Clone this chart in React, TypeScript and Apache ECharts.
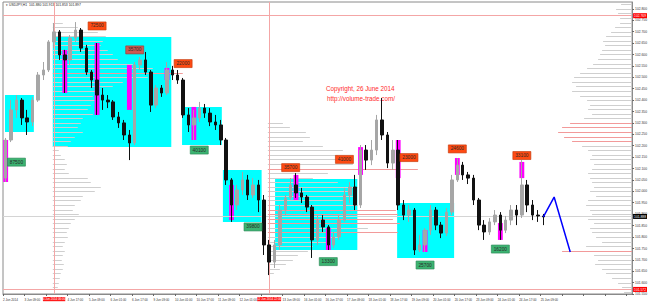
import React, { useEffect, useRef } from "react";
import * as echarts from "echarts";

// ---------- data ----------
const tickLabels = [
  "2 Jun 2014", "3 Jun 09:00", "4 Jun 01:00", "4 Jun 17:00", "5 Jun 09:00", "6 Jun 01:00",
  "6 Jun 17:00", "9 Jun 09:00", "10 Jun 01:00", "10 Jun 17:00", "11 Jun 09:00", "12 Jun 01:00",
  "12 Jun 17:00", "13 Jun 09:00", "16 Jun 01:00", "16 Jun 17:00", "17 Jun 09:00", "18 Jun 01:00",
  "18 Jun 17:00", "19 Jun 09:00", "20 Jun 01:00", "20 Jun 17:00", "23 Jun 09:00", "24 Jun 01:00",
  "24 Jun 17:00", "25 Jun 09:00",
];
const categoryCount = 117; // 4-hour slots incl. the empty shift on the right

// [open, close, low, high] per 4-hour bar
const candles: number[][] = [
  [102.058, 102.225, 102.041, 102.234], [102.225, 102.357, 102.216, 102.400], [102.357, 102.400, 102.322, 102.422],
  [102.400, 102.322, 102.291, 102.409], [102.322, 102.304, 102.247, 102.357], [102.304, 102.400, 102.286, 102.414],
  [102.400, 102.510, 102.392, 102.523], [102.510, 102.532, 102.488, 102.567], [102.532, 102.655, 102.523, 102.663],
  [102.655, 102.699, 102.628, 102.738], [102.699, 102.598, 102.576, 102.707], [102.598, 102.576, 102.431, 102.620],
  [102.576, 102.672, 102.554, 102.685], [102.672, 102.707, 102.655, 102.742], [102.707, 102.628, 102.611, 102.716],
  [102.628, 102.523, 102.510, 102.642], [102.523, 102.488, 102.453, 102.532], [102.488, 102.422, 102.335, 102.650],
  [102.422, 102.400, 102.357, 102.453], [102.400, 102.392, 102.365, 102.422], [102.392, 102.326, 102.313, 102.400],
  [102.326, 102.300, 102.278, 102.348], [102.300, 102.247, 102.225, 102.313], [102.247, 102.212, 102.137, 102.269],
  [102.212, 102.554, 102.203, 102.567], [102.554, 102.576, 102.532, 102.589], [102.576, 102.523, 102.510, 102.611],
  [102.523, 102.378, 102.348, 102.532], [102.378, 102.453, 102.365, 102.466], [102.453, 102.431, 102.414, 102.466],
  [102.431, 102.532, 102.422, 102.567], [102.532, 102.510, 102.488, 102.550], [102.510, 102.488, 102.471, 102.532],
  [102.488, 102.335, 102.322, 102.497], [102.335, 102.291, 102.260, 102.365], [102.291, 102.322, 102.225, 102.357],
  [102.322, 102.365, 102.304, 102.392], [102.365, 102.343, 102.322, 102.383], [102.343, 102.304, 102.286, 102.365],
  [102.304, 102.291, 102.269, 102.335], [102.291, 102.225, 102.203, 102.313], [102.225, 102.050, 102.028, 102.234],
  [102.050, 101.940, 101.866, 102.058], [101.940, 102.006, 101.918, 102.028], [102.006, 102.050, 101.984, 102.085],
  [102.050, 101.984, 101.962, 102.072], [101.984, 102.028, 101.971, 102.058], [102.028, 101.962, 101.909, 102.050],
  [101.962, 101.765, 101.721, 101.984], [101.765, 101.690, 101.633, 101.787], [101.690, 101.765, 101.664, 101.787],
  [101.765, 101.918, 101.743, 101.940], [101.918, 101.971, 101.896, 101.984], [101.971, 102.028, 101.962, 102.058],
  [102.028, 101.993, 101.971, 102.080], [101.993, 101.975, 101.949, 102.015], [101.975, 101.931, 101.909, 101.984],
  [101.931, 101.787, 101.708, 101.940], [101.787, 101.874, 101.765, 101.896], [101.874, 101.844, 101.822, 101.896],
  [101.844, 101.765, 101.743, 101.852], [101.765, 101.800, 101.752, 101.822], [101.800, 101.874, 101.787, 101.896],
  [101.874, 101.984, 101.866, 102.015], [101.984, 102.019, 101.949, 102.041], [102.019, 101.940, 101.918, 102.072],
  [101.940, 102.181, 101.927, 102.203], [102.181, 102.137, 102.094, 102.203], [102.137, 102.181, 102.115, 102.225],
  [102.181, 102.313, 102.159, 102.335], [102.313, 102.247, 102.225, 102.409], [102.247, 102.124, 102.102, 102.260],
  [102.124, 102.181, 102.094, 102.225], [102.181, 101.940, 101.918, 102.225], [101.940, 101.896, 101.874, 101.962],
  [101.896, 101.918, 101.866, 101.940], [101.918, 101.743, 101.721, 101.927], [101.743, 101.765, 101.734, 101.809],
  [101.765, 101.830, 101.734, 101.839], [101.830, 101.918, 101.809, 101.940], [101.918, 101.852, 101.830, 101.931],
  [101.852, 101.817, 101.795, 101.866], [101.817, 101.909, 101.804, 101.927], [101.909, 102.050, 101.896, 102.072],
  [102.050, 102.115, 102.041, 102.146], [102.115, 102.072, 102.050, 102.129], [102.072, 102.058, 102.032, 102.085],
  [102.058, 101.962, 101.940, 102.072], [101.962, 101.852, 101.830, 101.971], [101.852, 101.822, 101.787, 101.874],
  [101.822, 101.866, 101.809, 101.883], [101.866, 101.896, 101.852, 101.918], [101.896, 101.830, 101.787, 101.909],
  [101.830, 101.874, 101.817, 101.892], [101.874, 101.918, 101.852, 101.940], [101.918, 101.896, 101.852, 101.940],
  [101.896, 102.028, 101.883, 102.137], [102.028, 101.940, 101.909, 102.050], [101.940, 101.896, 101.874, 101.962],
  [101.896, 101.892, 101.866, 101.918], [101.892, 101.888, 101.852, 101.901],
];

// highlighted (volume spike) bars: [bar, high, low]
const spikeBars: number[][] = [
  [0, 102.225, 102.041], [11, 102.620, 102.431], [17, 102.650, 102.335], [23, 102.554, 102.357],
  [30, 102.541, 102.488], [35, 102.370, 102.225], [42, 102.028, 101.874], [54, 102.072, 101.962],
  [60, 101.839, 101.743], [66, 102.194, 102.072], [73, 102.225, 102.058], [78, 101.830, 101.734],
  [84, 102.146, 102.072], [92, 101.861, 101.787], [96, 102.129, 102.058],
];

// consolidation zones: [fromBar, toBar, high, low]
const zones: number[][] = [
  [-0.13, 5.24, 102.422, 102.260], [8.76, 30.8, 102.677, 102.194], [32.8, 40.2, 102.370, 102.203],
  [40.4, 47.6, 102.094, 101.866], [50.1, 65.4, 102.054, 101.743], [72.8, 83.4, 101.949, 101.708],
];

// volume labels: [bar, price, text]
const sellLabels: (number | string)[][] = [
  [17, 102.725, "72500"], [33, 102.560, "22000"], [53, 102.104, "35700"], [63, 102.140, "41000"],
  [75, 102.148, "23000"], [84, 102.186, "24600"], [96, 102.157, "33100"],
];
const dimLabels: (number | string)[][] = [[24, 102.620, "35700"]];
const buyLabels: (number | string)[][] = [
  [2, 102.128, "87500"], [36, 102.181, "40100"], [46, 101.844, "39800"], [60, 101.692, "13300"],
  [78, 101.677, "25700"], [92, 101.747, "16200"],
];

// forecast path: [bar, price]
const forecast: number[][] = [[100, 101.888], [102, 101.975], [105, 101.734]];

// volume profiles (levels every 0.02)
const profileStep = 0.02;
const profileRightTop = 102.82;
const profileRight = [
  11, 16, 14, 12, 12, 17, 21, 26, 29, 27, 30, 32, 34, 39, 45, 52, 58, 60, 56, 60,
  52, 45, 42, 44, 40, 48, 62, 70, 74, 68, 60, 50, 44, 40, 42, 38, 40, 44, 42, 40,
  38, 42, 36, 44, 46, 42, 40, 44, 38, 42, 40, 36, 30, 46, 70, 38, 34, 37, 30, 26,
  20, 14, 10, 8,
];
const profileRightRed = [102.30, 102.28, 102.26, 102.24, 102.22, 101.74];
const profileATop = 102.76;
const profileABar = 8.76;
const profileA = [
  0, 10, 25, 45, 53, 50, 48, 55, 60, 65, 80, 100, 130, 95, 70, 60, 45, 40, 42, 38,
  35, 40, 30, 28, 25, 30, 22, 18, 15, 6, 8, 12, 14, 12, 16, 35, 38, 48, 42, 30,
  28, 22, 20, 26, 22, 18, 16, 14, 15, 12, 10, 12, 10, 9, 11, 10, 8, 7, 6, 5,
];
const profileARed = [102.52];
const profileBTop = 102.30;
const profileBBar = 48.76;
const profileB = [
  15, 22, 38, 42, 35, 55, 75, 70, 80, 85, 150, 60, 45, 70, 90, 80, 85, 75, 90, 128,
  130, 125, 132, 100, 130, 70, 60, 45, 40, 30, 25, 18, 12, 6,
];
const profileBRed = [102.10, 101.92, 101.90, 101.88, 101.86, 101.82];

const topLevel = 102.769;
const bottomLevel = 101.572;
const lineMarks = [
  { bar: 9, text: "4 Jun 2014 06:00" },
  { bar: 49, text: "12 Jun 2014 22:00" },
];

// ---------- helpers ----------
const FONT = "Liberation Sans, Arial, sans-serif";

function bandX(api: any, idx: number) {
  const c0 = api.coord([0, 102])[0];
  const bw = api.size([1, 0])[0];
  return c0 + idx * bw;
}

function profileData(top: number, vols: number[], red: number[], bar: number) {
  return vols.map((v, i) => {
    const price = +(top - i * profileStep).toFixed(2);
    const isRed = red.some((r) => Math.abs(r - price) < 1e-6) ? 1 : 0;
    return [0, price, v, isRed, bar];
  });
}

function profileSeries(data: number[][], fromRight: boolean) {
  return {
    type: "custom",
    z: 2,
    silent: true,
    encode: { x: 0, y: 1 },
    data,
    renderItem: (params: any, api: any) => {
      const price = api.value(1);
      const vol = api.value(2);
      if (!vol) return null;
      const red = api.value(3);
      const y = Math.round(api.coord([0, price])[1]) + 0.5;
      let x1: number, x2: number;
      if (fromRight) {
        x2 = params.coordSys.x + params.coordSys.width;
        x1 = x2 - vol;
      } else {
        x1 = bandX(api, api.value(4));
        x2 = x1 + vol;
      }
      return {
        type: "line",
        shape: { x1, y1: y, x2, y2: y },
        style: { stroke: red ? "#f29a9a" : "#cfcfcf", lineWidth: 1 },
      };
    },
  };
}

function labelSeries(rows: (number | string)[][], fill: string, border: string) {
  return {
    type: "scatter",
    z: 10,
    symbol: "rect",
    symbolSize: [18, 8],
    itemStyle: { color: fill, borderColor: border, borderWidth: 0.6, opacity: 1 },
    label: {
      show: true,
      position: "inside",
      formatter: "{b}",
      fontSize: 4.8,
      fontFamily: FONT,
      color: "#2a2a2a",
    },
    data: rows.map((r) => ({ name: r[2] as string, value: [r[0], r[1]] })),
  };
}

export default function App() {
  const ref = useRef<HTMLDivElement>(null);

  useEffect(() => {
    if (!ref.current) return;
    const chart = echarts.init(ref.current, undefined, { renderer: "svg" });
    const cats = Array.from({ length: categoryCount }, (_, i) => String(i));
    // boundaries between the 4-hour slots (one more than the slots)
    const edges = Array.from({ length: categoryCount + 1 }, (_, i) => String(i));
    const lastClose = candles[candles.length - 1][1];
    // tick labels hidden under the vertical lines' own date boxes
    const covered = (cat: number) => lineMarks.some((m) => Math.abs(m.bar - cat) <= 2);

    const option: any = {
      animation: false,
      backgroundColor: "#ffffff",
      grid: { left: 2, right: 16, top: 2, bottom: 11, show: true, borderColor: "#8a8a8a", borderWidth: 1, backgroundColor: "#ffffff" },
      xAxis: [
        {
          type: "category",
          data: cats,
          boundaryGap: true,
          axisLine: { lineStyle: { color: "#8a8a8a" } },
          axisTick: { show: false },
          axisLabel: { show: false },
          splitLine: { show: false },
        },
        {
          type: "category",
          data: edges,
          boundaryGap: false,
          position: "bottom",
          axisLine: { show: false },
          axisTick: { interval: 3, length: 2, lineStyle: { color: "#666" } },
          axisLabel: {
            interval: 3,
            fontSize: 3.0,
            fontFamily: FONT,
            color: "#333",
            align: "left",
            margin: 4,
            formatter: (v: string) => {
              const c = Number(v);
              if (covered(c)) return "";
              return tickLabels[c / 4] ?? "";
            },
          },
          splitLine: { show: false },
        },
      ],
      yAxis: {
        type: "value",
        position: "right",
        min: 101.55,
        max: 102.83,
        interval: 0.05,
        scale: true,
        axisLine: { show: true, lineStyle: { color: "#8a8a8a" } },
        axisTick: { show: true, length: 2, lineStyle: { color: "#666" } },
        axisLabel: {
          fontSize: 3.3,
          fontFamily: FONT,
          color: "#333",
          margin: 3,
          showMaxLabel: false,
          formatter: (v: number) => v.toFixed(3),
        },
        splitLine: { show: false },
      },
      graphic: [
        {
          type: "text",
          left: 6,
          top: 3,
          style: { text: "\u25BE USDJPY,H1  101.880 101.913 101.853 101.897", fontSize: 3.4, fontFamily: FONT, fill: "#222" },
        },
        {
          type: "text",
          left: 326,
          top: 85,
          style: { text: "Copyright, 26 June 2014", fontSize: 6.3, fontFamily: FONT, fill: "#ff2a2a" },
        },
        {
          type: "text",
          left: 327,
          top: 95,
          style: { text: "http://volume-trade.com/", fontSize: 6.3, fontFamily: FONT, fill: "#ff2a2a" },
        },
      ],
      series: [
        {
          type: "custom",
          z: 1,
          silent: true,
          encode: { x: 0, y: 3 },
          data: zones.map((b) => [0, b[0], b[1], b[2], b[3]]),
          renderItem: (_p: any, api: any) => {
            const x0 = bandX(api, api.value(1));
            const x1 = bandX(api, api.value(2));
            const y0 = api.coord([0, api.value(3)])[1];
            const y1 = api.coord([0, api.value(4)])[1];
            return { type: "rect", shape: { x: x0, y: y0, width: x1 - x0, height: y1 - y0 }, style: { fill: "#00ffff" } };
          },
        },
        profileSeries(profileData(profileATop, profileA, profileARed, profileABar), false),
        profileSeries(profileData(profileBTop, profileB, profileBRed, profileBBar), false),
        profileSeries(profileData(profileRightTop, profileRight, profileRightRed, 0), true),
        {
          type: "custom",
          z: 3,
          silent: true,
          encode: { x: 0, y: 1 },
          data: spikeBars,
          renderItem: (_p: any, api: any) => {
            const c = api.coord([api.value(0), api.value(1)]);
            const lo = api.coord([api.value(0), api.value(2)]);
            const w = api.size([1, 0])[0] * 0.9;
            return { type: "rect", shape: { x: c[0] - w / 2, y: c[1], width: w, height: lo[1] - c[1] }, style: { fill: "#ff00ff" } };
          },
        },
        {
          type: "candlestick",
          z: 5,
          barWidth: 3,
          data: candles,
          itemStyle: { color: "#a6a6a6", color0: "#111111", borderColor: "#a6a6a6", borderColor0: "#111111", borderWidth: 1 },
          markLine: {
            symbol: ["none", "none"],
            silent: true,
            animation: false,
            data: [
              {
                yAxis: topLevel,
                lineStyle: { color: "#f4a6a6", width: 1, type: "solid" },
                label: { show: true, position: "end", distance: 1, formatter: topLevel.toFixed(3), backgroundColor: "#ff0000", color: "#fff", fontSize: 3.3, fontFamily: FONT, padding: [1, 1] },
              },
              {
                yAxis: bottomLevel,
                lineStyle: { color: "#f4a6a6", width: 1, type: "solid" },
                label: { show: true, position: "end", distance: 1, formatter: bottomLevel.toFixed(3), backgroundColor: "#ff0000", color: "#fff", fontSize: 3.3, fontFamily: FONT, padding: [1, 1] },
              },
              {
                yAxis: lastClose,
                lineStyle: { color: "#d4d4d4", width: 1, type: "solid" },
                label: { show: true, position: "end", distance: 1, formatter: lastClose.toFixed(3), backgroundColor: "#000", color: "#fff", fontSize: 3.3, fontFamily: FONT, padding: [1, 1] },
              },
              ...lineMarks.map((m) => ({
                xAxis: m.bar,
                lineStyle: { color: "#f4a6a6", width: 1, type: "solid" },
                label: { show: true, position: "start", distance: 3, formatter: m.text, backgroundColor: "#ff1a1a", color: "#fff", fontSize: 2.9, fontFamily: FONT, padding: [0.6, 0] },
              })),
            ],
          },
        },
        {
          type: "line",
          z: 6,
          data: forecast,
          showSymbol: false,
          lineStyle: { color: "#0000ff", width: 1.5 },
        },
        labelSeries(sellLabels, "#ff4a12", "#c23a0c"),
        labelSeries(dimLabels, "#cd5a52", "#9a3c36"),
        labelSeries(buyLabels, "#3cb371", "#2a8a56"),
      ],
    };

    chart.setOption(option);
    return () => chart.dispose();
  }, []);

  return (
    <div
      ref={ref}
      style={{ position: "absolute", left: 0, top: 0, width: 650, height: 305 }}
    />
  );
}
